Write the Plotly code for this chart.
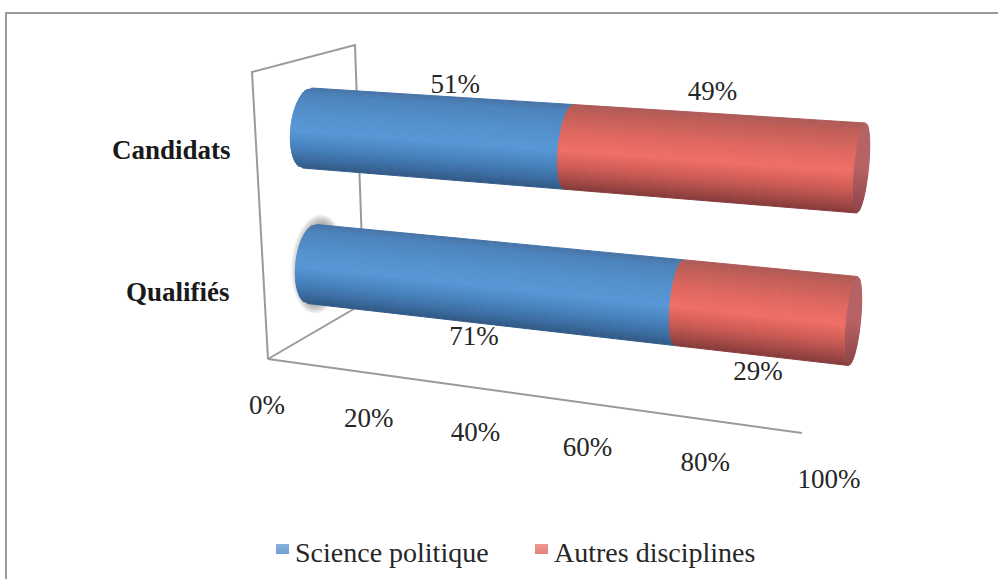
import math
import plotly.graph_objects as go

# Chart data
categories = ["Candidats", "Qualifiés"]
series_names = ["Science politique", "Autres disciplines"]
science_politique = [51, 71]
autres_disciplines = [49, 29]
axis_ticks = [0, 20, 40, 60, 80, 100]

# Oblique view of the cylinders: (centre x, centre y) of each bar's ends, in page pixels
VIEW = {
    "Candidats": dict(left=(307, 128), right=(861, 168), r0=40, r1=45),
    "Qualifiés": dict(left=(312, 264), right=(853, 321), r0=39.5, r1=44.5),
}
DEPTH = 1.16        # foreshortening along the value axis
END_MINOR = (16.5, 7.5)
TILT = 4.5
BANDS = 44

BLUE = [(0, (72, 116, 166)), (.1, (78, 132, 190)), (.35, (84, 146, 206)),
        (.55, (88, 152, 214)), (.75, (72, 130, 190)), (.9, (60, 108, 160)), (1, (50, 90, 135))]
RED = [(0, (172, 92, 88)), (.1, (192, 94, 88)), (.35, (224, 105, 97)),
       (.55, (240, 112, 102)), (.75, (205, 92, 85)), (.9, (165, 75, 72)), (1, (135, 60, 60))]
CAP = [(0, (178, 100, 100)), (.5, (185, 98, 100)), (1, (140, 68, 72))]
INK = "#262626"
RULE = "#9a9a9a"
FONT = "Liberation Serif"


def frac(value, depth=DEPTH):
    """Position along a bar (0-1) of a percentage, after foreshortening."""
    v = value / 100
    return v / (v + depth * (1 - v))


def ramp(stops, t):
    for (t0, c0), (t1, c1) in zip(stops, stops[1:]):
        if t <= t1:
            w = (t - t0) / (t1 - t0)
            return "rgb(%d,%d,%d)" % tuple(a + (b - a) * w for a, b in zip(c0, c1))
    return "rgb(%d,%d,%d)" % stops[-1][1]


def surface_point(view, value, phi, side=-1, grow=0):
    """Pixel position on a cylinder at a percentage and an angle round its axis."""
    f = frac(value)
    cx = view["left"][0] + (view["right"][0] - view["left"][0]) * f
    cy = view["left"][1] + (view["right"][1] - view["left"][1]) * f
    r = view["r0"] + (view["r1"] - view["r0"]) * f + grow
    m = END_MINOR[1] + (END_MINOR[0] - END_MINOR[1]) * (1 - f) ** 1.5 + grow
    slope = (view["right"][1] - view["left"][1]) / (view["right"][0] - view["left"][0])
    return (cx - TILT * math.sin(phi) + side * m * math.cos(phi),
            cy + r * math.sin(phi) + side * m * math.cos(phi) * slope)


def band_angle(i):
    return math.asin(max(-1, min(1, 2 * i / BANDS - 1)))


def polygon(xs, ys, color, opacity=1.0, width=1.0):
    return go.Scatter(x=xs, y=ys, mode="lines", fill="toself", fillcolor=color, opacity=opacity,
                      line=dict(color=color, width=width), hoverinfo="skip", showlegend=False)


def cylinder_segment(view, start, stop, stops):
    traces = []
    for i in range(BANDS):
        a, b = band_angle(i), band_angle(i + 1)
        p = [surface_point(view, start, a), surface_point(view, stop, a),
             surface_point(view, stop, b), surface_point(view, start, b)]
        traces.append(polygon([q[0] for q in p], [q[1] for q in p], ramp(stops, (i + .5) / BANDS)))
    return traces


def end_cap(view, value, stops):
    traces = []
    for i in range(BANDS):
        a, b = band_angle(i), band_angle(i + 1)
        p = [surface_point(view, value, a, -1), surface_point(view, value, a, 1),
             surface_point(view, value, b, 1), surface_point(view, value, b, -1)]
        traces.append(polygon([q[0] for q in p], [q[1] for q in p], ramp(stops, (i + .5) / BANDS)))
    return traces


def halo(view):
    traces = []
    for grow in range(1, 11):
        pts = [surface_point(view, 0, 2 * math.pi * i / 60, -1, grow) for i in range(61)]
        traces.append(polygon([p[0] + 6 for p in pts], [p[1] for p in pts], "rgb(110,110,110)", .08, 0))
    return traces


def rule(points):
    return go.Scatter(x=[p[0] for p in points], y=[p[1] for p in points], mode="lines",
                      line=dict(color=RULE, width=2), hoverinfo="skip", showlegend=False)


fig = go.Figure()

# Chart frame: only the left and top edges fall inside the page
fig.add_trace(rule([(6, 579), (6, 13), (998, 13)]))

# Side wall and floor of the box
fig.add_trace(rule([(268, 359), (252, 72), (355, 45), (364, 303), (268, 359), (802, 433)]))

# Cylinders
fig.add_traces(halo(VIEW["Qualifiés"]))
for cat, sci, other in zip(categories, science_politique, autres_disciplines):
    view = VIEW[cat]
    fig.add_traces(cylinder_segment(view, 0, sci, BLUE))
    fig.add_traces(end_cap(view, sci + other, CAP))
    fig.add_traces(cylinder_segment(view, sci, sci + other, RED))

# Value-axis tick labels run along a line below the floor
tick_start, tick_end = (267, 407), (829, 481)
tick_f = [frac(t, 1.13) for t in axis_ticks]
fig.add_trace(go.Scatter(
    x=[tick_start[0] + (tick_end[0] - tick_start[0]) * f for f in tick_f],
    y=[tick_start[1] + (tick_end[1] - tick_start[1]) * f for f in tick_f],
    mode="text", text=[f"{t}%" for t in axis_ticks], textposition="middle center",
    textfont=dict(family=FONT, size=27, color=INK), hoverinfo="skip", showlegend=False))

# Value labels, placed off each segment's middle
label_offset = {("Candidats", 0): (22, -51), ("Candidats", 1): (3, -64),
                ("Qualifiés", 0): (-12, 56), ("Qualifiés", 1): (-6, 62)}
lx, ly, lt = [], [], []
for c, cat in enumerate(categories):
    parts = [science_politique[c], autres_disciplines[c]]
    start = 0
    for s, part in enumerate(parts):
        x, y = surface_point(VIEW[cat], start + part / 2, 0, 0)
        dx, dy = label_offset[(cat, s)]
        lx.append(x + dx)
        ly.append(y + dy)
        lt.append(f"{part}%")
        start += part
fig.add_trace(go.Scatter(x=lx, y=ly, mode="text", text=lt, textposition="middle center",
                         textfont=dict(family=FONT, size=27, color=INK),
                         hoverinfo="skip", showlegend=False))

# Category labels beside the wall
for cat, x, y in zip(categories, [171.5, 178], [150, 292]):
    fig.add_annotation(x=x, y=y, text=f"<b>{cat}</b>", showarrow=False, xanchor="center", yanchor="middle",
                       font=dict(family=FONT, size=27, color="#1a1a1a"))

# Legend row: a shaded swatch followed by the series name
swatch_shades = [("#8ab2dd", "#6f9fd2"), ("#f09a94", "#e57f7a")]
for name, (top, bottom), x0 in zip(series_names, swatch_shades, [276, 535]):
    x1 = x0 + 13
    fig.add_trace(go.Scatter(
        x=[x0, x1, x1, x0, x0], y=[544, 544, 554, 554, 544], mode="lines", fill="toself", name=name,
        line=dict(width=0), hoverinfo="skip", showlegend=False,
        fillgradient=dict(type="vertical", colorscale=[[0, bottom], [1, top]])))
    fig.add_annotation(x=x1 + 6, y=552, text=name, showarrow=False, xanchor="left", yanchor="middle",
                       font=dict(family=FONT, size=28, color=INK), xshift=-2)

fig.update_layout(
    width=998, height=579, margin=dict(l=0, r=0, t=0, b=0),
    paper_bgcolor="white", plot_bgcolor="white", showlegend=False,
    xaxis=dict(range=[0, 998], visible=False, fixedrange=True),
    yaxis=dict(range=[579, 0], visible=False, fixedrange=True),
)

fig.write_html("out.html", config=dict(displayModeBar=False))
